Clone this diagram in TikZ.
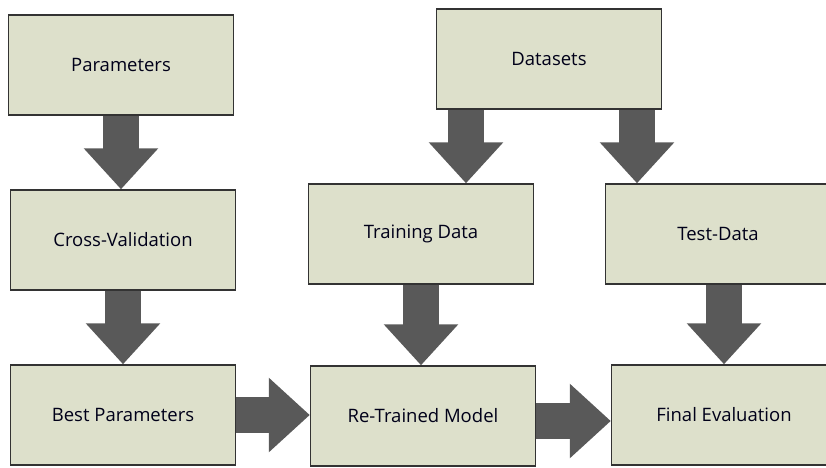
\documentclass[tikz,border=0pt]{standalone}
\usepackage{fontspec}
\setmainfont{Open Sans}
\usetikzlibrary{arrows.meta,positioning}
\definecolor{boxfill}{RGB}{221,224,203}
\definecolor{arrowgray}{RGB}{89,89,89}

\begin{document}
\begin{tikzpicture}[x=1pt,y=-1pt,
  stage/.style={draw=black!80,line width=1.4pt,fill=boxfill,
    minimum width=225pt,minimum height=100pt,inner sep=0pt,
    text=black!90!blue,font=\fontsize{18.5}{22}\selectfont},
  bigarrow/.style={arrowgray,line width=36pt,
    -{Triangle[width=72pt,length=41pt]}}]
\useasboundingbox (0,0) rectangle (826,467);
% left column: parameter search
\node[stage] (params) at (121,65) {Parameters};
\node[stage] (cv) at (123,240) {Cross-Validation};
\node[stage] (best) at (123,415) {Best Parameters};
% data split
\node[stage] (datasets) at (549,59) {Datasets};
\node[stage] (train) at (421,234) {Training Data};
\node[stage] (test) at (718,234) {Test-Data};
% bottom row
\node[stage] (retrain) at (423,416) {Re-Trained Model};
\node[stage] (final) at (724,415) {Final Evaluation};
% vertical arrows
\draw[bigarrow] (params.south) -- (params.south |- cv.north);
\draw[bigarrow] (cv.south) -- (best.north);
\draw[bigarrow] ([xshift=-83pt]datasets.south) -- ([xshift=-83pt]datasets.south |- train.north);
\draw[bigarrow] ([xshift=88pt]datasets.south) -- ([xshift=88pt]datasets.south |- test.north);
\draw[bigarrow] (train.south) -- (train.south |- retrain.north);
\draw[bigarrow] (final.north |- test.south) -- (final.north);
% horizontal arrows
\draw[bigarrow] (best.east) -- (best.east -| retrain.west);
\draw[bigarrow] ([yshift=-5pt]retrain.east) -- ([yshift=-5pt]retrain.east -| final.west);
\end{tikzpicture}
\end{document}
